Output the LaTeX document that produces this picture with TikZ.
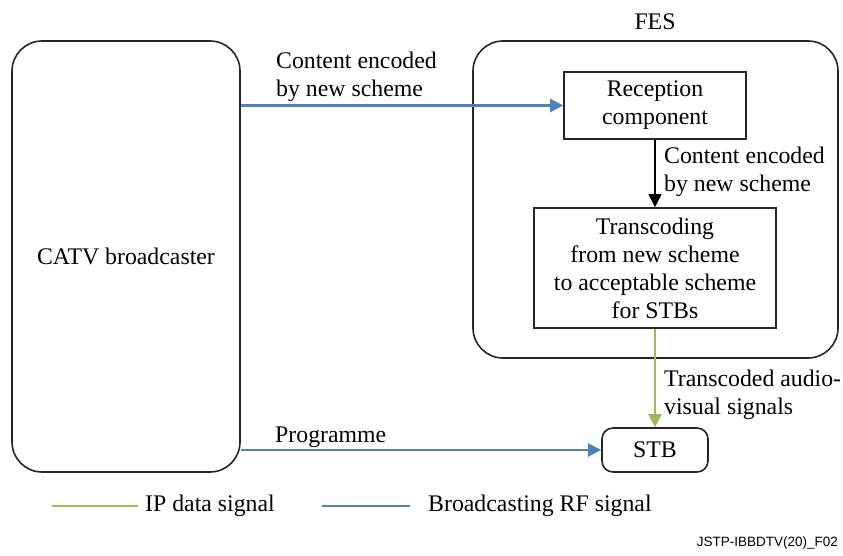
\documentclass[tikz,border=0pt]{standalone}
\usepackage{fontspec}
\setmainfont{Liberation Serif}
\newfontfamily\diagserif{Liberation Serif}
\newfontfamily\labelsans{Liberation Sans}
\usetikzlibrary{arrows.meta,calc}
\definecolor{rfblue}{HTML}{4F81BD}
\definecolor{ipgreen}{HTML}{9BBB59}
\tikzset{
  box/.style={draw=black!85,line width=1.6pt,rectangle,inner sep=0pt,align=center},
  rbox/.style={box,rounded corners=30pt},
  txt/.style={inner sep=0pt,align=left},
  rfline/.style={draw=rfblue,line width=2.4pt},
  ipline/.style={draw=ipgreen,line width=2.4pt},
  tip/.style={-{Triangle[length=13pt,width=13pt]}},
}
\begin{document}
\begin{tikzpicture}[x=1pt,y=-1pt,font=\diagserif\fontsize{23.8pt}{28pt}\selectfont]
\useasboundingbox[fill=white] (0,0) rectangle (843,556);
\node[rbox,minimum width=228pt,minimum height=431pt] (catv) at (126,256.5) {CATV broadcaster};
\node[rbox,minimum width=365pt,minimum height=317pt] (fes) at (655.5,199.5) {};
\node[txt] (feslabel) at (655,22) {FES};
\node[box,minimum width=182pt,minimum height=67pt] (recep) at (655,105.5) {Reception\\component};
\node[box,minimum width=242pt,minimum height=120pt] (trans) at (655,268) {Transcoding\\from new scheme\\to acceptable scheme\\for STBs};
\node[box,rounded corners=11pt,minimum width=106pt,minimum height=44pt] (stb) at (655,450) {STB};
\draw[rfline,tip,fill=rfblue] (recep.west -| catv.east) -- (recep.west);
\draw[line width=1.6pt,tip] (recep.south) -- (trans.north);
\draw[ipline,tip,fill=ipgreen] (trans.south) -- (stb.north);
\draw[rfline,tip,fill=rfblue] (stb.west -| catv.east) -- (stb.west);
\node[txt,anchor=west] (l1) at (276,77) {Content encoded\\by new scheme};
\node[txt,anchor=west] (l2) at (664,172) {Content encoded\\by new scheme};
\node[txt,anchor=west] (l3) at (664,395) {Transcoded audio-\\visual signals};
\node[txt,anchor=base west] (l4) at (275,442) {Programme};
\coordinate (g1) at (52,506);
\coordinate (g2) at (138,506);
\coordinate (b1) at (322,506);
\coordinate (b2) at (410,506);
\draw[ipline] (g1) -- (g2);
\draw[rfline] (b1) -- (b2);
\node[txt,anchor=west] (lg1) at (145,506) {IP data signal};
\node[txt,anchor=west] (lg2) at (428,506) {Broadcasting RF signal};
\node[txt,anchor=east,font=\labelsans\fontsize{13.5pt}{16pt}\selectfont] (code) at (838,543) {JSTP-IBBDTV(20)\_F02};
\end{tikzpicture}
\end{document}
